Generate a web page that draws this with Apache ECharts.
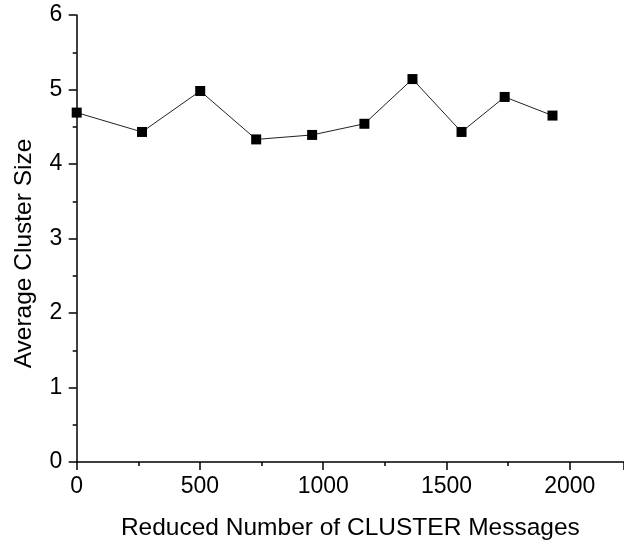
<!DOCTYPE html>
<html>
<head>
<meta charset="utf-8">
<script src="https://cdn.jsdelivr.net/npm/echarts@6/dist/echarts.min.js"></script>
<style>html,body{margin:0;padding:0;background:#fff}#c{width:624px;height:546px}</style>
</head>
<body>
<div id="c"></div>
<script>
var xValues = [0, 265, 501, 728, 955, 1167, 1362, 1561, 1736, 1930];
var yValues = [4.69, 4.43, 4.98, 4.33, 4.39, 4.54, 5.14, 4.43, 4.90, 4.65];
var xTitle = 'Reduced Number of CLUSTER Messages';
var yTitle = 'Average Cluster Size';

var chart = echarts.init(document.getElementById('c'), null, {renderer: 'canvas'});
var font = 'Liberation Sans, Arial, sans-serif';
function plain(v) { return String(v); }
var axisCommon = {
  axisLine: {show: true, lineStyle: {color: '#000', width: 1.5}},
  axisTick: {show: true, inside: false, length: 8, lineStyle: {color: '#000', width: 1.5}},
  minorTick: {show: true, splitNumber: 2, length: 4, lineStyle: {color: '#000', width: 1.5}},
  splitLine: {show: false},
  nameLocation: 'middle'
};
chart.setOption({
  animation: false,
  backgroundColor: '#fff',
  grid: {left: 76.7, right: 0, top: 15, bottom: 83.7, containLabel: false},
  xAxis: Object.assign({}, axisCommon, {
    type: 'value', min: 0, max: 2220, interval: 500,
    name: xTitle, nameGap: 54,
    nameTextStyle: {color: '#000', fontSize: 24.5, fontFamily: font},
    axisLabel: {color: '#000', fontSize: 23, fontFamily: font, margin: 13, showMaxLabel: false, formatter: plain}
  }),
  yAxis: Object.assign({}, axisCommon, {
    type: 'value', min: 0, max: 6, interval: 1,
    name: yTitle, nameGap: 40,
    nameTextStyle: {color: '#000', fontSize: 24.5, fontFamily: font, padding: [0, 30, 0, 0]},
    axisLabel: {color: '#000', fontSize: 23, fontFamily: font, margin: 14.5, formatter: plain}
  }),
  series: [{
    type: 'line',
    data: xValues.map(function (x, i) { return [x, yValues[i]]; }),
    symbol: 'rect', symbolSize: 10,
    itemStyle: {color: '#000'},
    lineStyle: {color: '#222', width: 1},
    clip: false
  }]
});
</script>
</body>
</html>
